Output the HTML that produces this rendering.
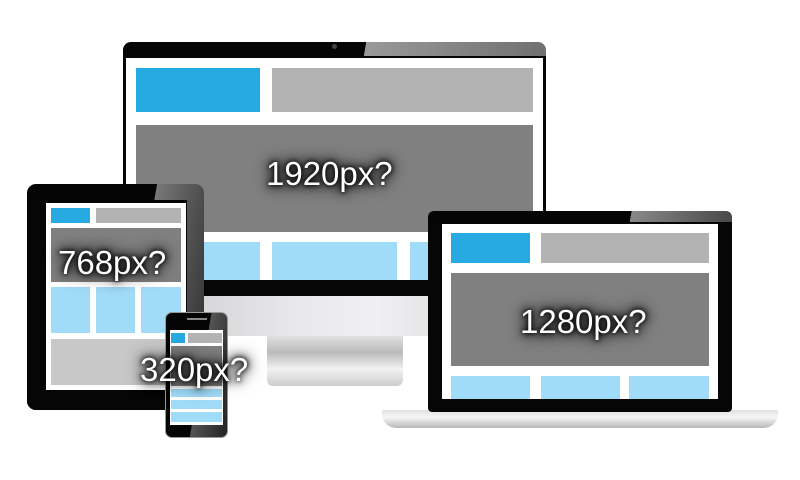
<!DOCTYPE html>
<html><head><style>
body{margin:0;width:800px;height:480px;background:#fff;position:relative;overflow:hidden;font-family:"Liberation Sans",sans-serif}
div{position:absolute;box-sizing:border-box}
.blk{background:#060606}
.w{background:#fff}
.b{background:#27a9e1}
.g{background:#b3b3b3}
.d{background:#808080}
.lb{background:#a0dbf7}
.lg{background:#c8c8c8}
.t{color:#fff;font-size:33px;white-space:nowrap;text-shadow:0 0 4px #000,0 0 8px #000,0 0 12px #000,0 0 18px #111;line-height:1}
</style></head><body>
<!-- monitor -->
<div style="left:267px;top:330px;width:136px;height:56px;background:linear-gradient(#eee,#bbb 40%,#f2f2f2 70%,#ccc);border-radius:0 0 6px 6px"></div>
<div style="left:123px;top:294px;width:423px;height:42px;background:linear-gradient(90deg,#c8c8cc,#e8e8ea 40%,#f0f0f2 60%,#d0d0d4)"></div>
<div style="left:123px;top:42px;width:423px;height:254px;border-radius:8px 8px 0 0;background:linear-gradient(100deg,#050505 0 52%,#999 52%,#666)"></div>
<div class="blk" style="left:123px;top:56px;width:423px;height:240px"></div>
<div class="w" style="left:126px;top:58px;width:417px;height:222px"></div>
<div class="b" style="left:136px;top:68px;width:124px;height:44px"></div>
<div class="g" style="left:272px;top:68px;width:261px;height:44px"></div>
<div class="d" style="left:136px;top:125px;width:397px;height:107px"></div>
<div class="lb" style="left:136px;top:242px;width:124px;height:38px"></div>
<div class="lb" style="left:272px;top:242px;width:125px;height:38px"></div>
<div class="lb" style="left:410px;top:242px;width:123px;height:38px"></div>
<div style="left:332px;top:44px;width:5px;height:5px;border-radius:50%;background:#444"></div>
<div class="t" style="left:266px;top:157px">1920px?</div>
<!-- laptop -->
<div style="left:382px;top:410px;width:396px;height:18px;border-radius:2px 2px 14px 14px;background:linear-gradient(#e0e0e0,#f6f6f6 40%,#b8b8b8)"></div>
<div style="left:428px;top:211px;width:304px;height:201px;border-radius:6px;background:linear-gradient(100deg,#050505 0 60%,#888 60%,#333)"></div>
<div class="blk" style="left:428px;top:222px;width:304px;height:190px;border-radius:0 0 4px 4px"></div>
<div class="w" style="left:442px;top:224px;width:276px;height:175px"></div>
<div class="b" style="left:451px;top:233px;width:79px;height:30px"></div>
<div class="g" style="left:541px;top:233px;width:168px;height:30px"></div>
<div class="d" style="left:451px;top:273px;width:258px;height:93px"></div>
<div class="lb" style="left:451px;top:376px;width:79px;height:23px"></div>
<div class="lb" style="left:541px;top:376px;width:79px;height:23px"></div>
<div class="lb" style="left:629px;top:376px;width:80px;height:23px"></div>
<div class="t" style="left:520px;top:305px">1280px?</div>
<!-- tablet -->
<div style="left:27px;top:184px;width:177px;height:226px;border-radius:9px;background:linear-gradient(100deg,#050505 0 60%,#777 60%,#2a2a2a)"></div>
<div class="blk" style="left:27px;top:200px;width:160px;height:210px;border-radius:0 0 0 9px"></div>
<div class="w" style="left:46px;top:203px;width:140px;height:187px"></div>
<div class="b" style="left:51px;top:208px;width:39px;height:15px"></div>
<div class="g" style="left:96px;top:208px;width:85px;height:15px"></div>
<div class="d" style="left:51px;top:228px;width:130px;height:54px"></div>
<div class="lb" style="left:51px;top:287px;width:39px;height:46px"></div>
<div class="lb" style="left:96px;top:287px;width:39px;height:46px"></div>
<div class="lb" style="left:141px;top:287px;width:40px;height:46px"></div>
<div class="lg" style="left:51px;top:339px;width:130px;height:46px"></div>
<div class="t" style="left:58px;top:246px">768px?</div>
<!-- phone -->
<div style="left:165px;top:312px;width:63px;height:126px;border-radius:7px;background:linear-gradient(100deg,#050505 0 55%,#555 55%,#222);border:1px solid #999"></div>
<div style="left:187px;top:318px;width:20px;height:2px;background:#888"></div>
<div class="w" style="left:170px;top:330px;width:53px;height:95px"></div>
<div class="b" style="left:171px;top:333px;width:14px;height:10px"></div>
<div class="g" style="left:188px;top:333px;width:34px;height:10px"></div>
<div class="d" style="left:171px;top:346px;width:51px;height:40px"></div>
<div class="lb" style="left:171px;top:389px;width:51px;height:8px"></div>
<div class="lb" style="left:171px;top:400px;width:51px;height:9px"></div>
<div class="lb" style="left:171px;top:412px;width:51px;height:10px"></div>
<div class="t" style="left:140px;top:353px">320px?</div>
</body></html>
